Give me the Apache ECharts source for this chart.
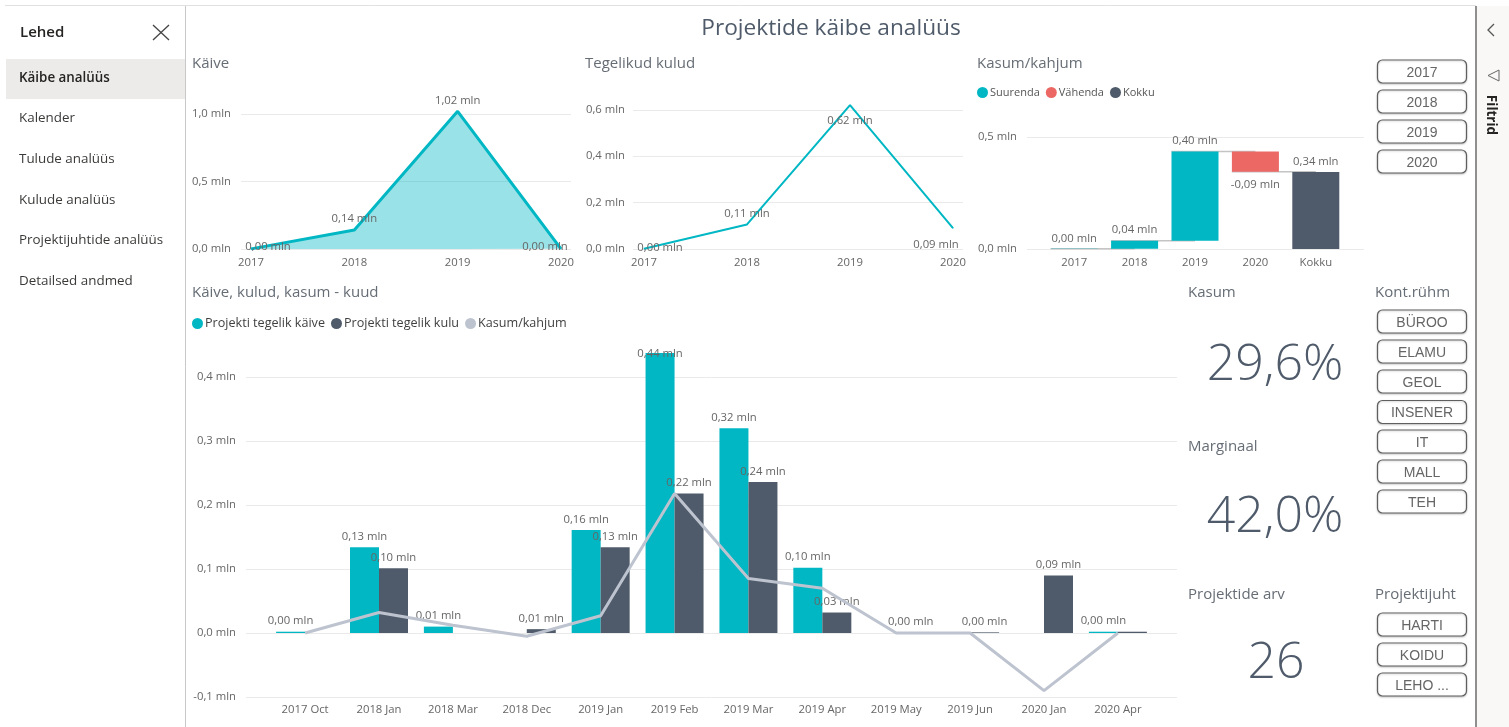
<!DOCTYPE html>
<html>
<head>
<meta charset="utf-8">
<title>Projektide käibe analüüs</title>
<script src="https://cdn.jsdelivr.net/npm/echarts@6/dist/echarts.min.js"></script>
<style>
html, body { margin: 0; padding: 0; background: #fff; }
#main { width: 1509px; height: 727px; }
</style>
</head>
<body>
<div id="main"></div>
<script type="text/javascript">
// andmed
var years = [2017, 2018, 2019, 2020];
var kaive = [0.001, 0.14, 1.02, 0.001];
var kulud = [0.001, 0.106, 0.62, 0.09];

var wfCategories = ['2017', '2018', '2019', '2020', 'Kokku'];
var wfIncrease = [0.001, 0.036, 0.398, null, null];
var wfDecrease = [null, null, null, 0.09, null];
var wfTotal = [null, null, null, null, 0.344];

var months = ['2017 Oct', '2018 Jan', '2018 Mar', '2018 Dec', '2019 Jan', '2019 Feb', '2019 Mar', '2019 Apr', '2019 May', '2019 Jun', '2020 Jan', '2020 Apr'];
var monthRevenue = [0.002, 0.134, 0.01, null, 0.161, 0.4375, 0.32, 0.102, null, null, null, 0.002];
var monthCost = [null, 0.101, null, 0.006, 0.134, 0.218, 0.236, 0.032, 0.001, 0.001, 0.09, 0.002];
var monthProfit = [0, 0.032, 0.012, -0.005, 0.027, 0.218, 0.085, 0.07, 0, 0, -0.09, 0];

var pages = ['Käibe analüüs', 'Kalender', 'Tulude analüüs', 'Kulude analüüs', 'Projektijuhtide analüüs', 'Detailsed andmed'];
var yearButtons = ['2017', '2018', '2019', '2020'];
var groupButtons = ['BÜROO', 'ELAMU', 'GEOL', 'INSENER', 'IT', 'MALL', 'TEH'];
var leadButtons = ['HARTI', 'KOIDU', 'LEHO ...'];

// siltide nihked (px), kus silt ei ole tavalises kohas
var kaiveShift = [[17, 9], [0, 0], [0, 0], [-16, 9]];
var kuludShift = [[16, 10], [0, 0], [0, 27], [-17, 28]];

var TEAL = '#00B7C3', SLATE = '#4F5B6A', SILVER = '#BDC3CF', RED = '#EB6864';
var FONT = '"Open Sans", "Noto Sans", sans-serif';
var TXT = '#666666';
var LABEL_SIZE = 11.3;

function mln1(v) { return v.toFixed(1).replace('.', ',') + ' mln'; }
function mln2(v) { return v.toFixed(2).replace('.', ',') + ' mln'; }

function yAxis(gridIndex, min, max, interval, margin) {
  var onTick = max % interval < 1e-9 || interval - max % interval < 1e-9;
  return {
    type: 'value', gridIndex: gridIndex, min: min, max: max, interval: interval,
    axisLine: {show: false}, axisTick: {show: false},
    axisLabel: {formatter: mln1, color: TXT, fontSize: LABEL_SIZE, fontFamily: FONT, margin: margin, showMaxLabel: onTick, padding: [3, 0, 0, 0]},
    splitLine: {lineStyle: {color: '#EAEAEA', width: 1}, showMaxLine: onTick}
  };
}

function xAxis(gridIndex, min, max, values, names, margin) {
  return {
    type: 'value', gridIndex: gridIndex, min: min, max: max,
    axisLine: {show: false}, axisTick: {show: false, customValues: values}, splitLine: {show: false},
    axisLabel: {
      customValues: values, color: TXT, fontSize: LABEL_SIZE, fontFamily: FONT, margin: margin,
      formatter: function (v) { return names ? names[v] : String(v); }
    }
  };
}

function lineData(values, shifts) {
  return values.map(function (v, i) {
    return {value: [years[i], v], label: {offset: shifts[i]}};
  });
}

function pairs(values) {
  return values.map(function (v, i) { return [i, v === null ? '-' : v]; });
}

function plain(values) {
  return values.map(function (v) { return v === null ? '-' : v; });
}

// vahesumma kahanevate/kasvavate tulpade alla
var wfBase = [], wfLevels = [];
(function () {
  var run = 0;
  for (var i = 0; i < wfCategories.length; i++) {
    if (wfIncrease[i] !== null) { wfBase.push(run); run += wfIncrease[i]; }
    else if (wfDecrease[i] !== null) { run -= wfDecrease[i]; wfBase.push(run); }
    else { wfBase.push(0); }
    wfLevels.push(run);
  }
})();

function labelOf(p) {
  return mln2(Array.isArray(p.value) ? p.value[1] : p.value);
}
var barLabel = {show: true, position: 'top', color: TXT, fontSize: LABEL_SIZE, fontFamily: FONT, formatter: labelOf};

var series = [
  {
    name: 'Käive', type: 'line', xAxisIndex: 0, yAxisIndex: 0, data: lineData(kaive, kaiveShift),
    showSymbol: true, symbol: 'circle', symbolSize: 1, lineStyle: {color: TEAL, width: 3},
    areaStyle: {color: TEAL, opacity: 0.4}, itemStyle: {color: TEAL}, label: barLabel
  },
  {
    name: 'Tegelikud kulud', type: 'line', xAxisIndex: 1, yAxisIndex: 1, data: lineData(kulud, kuludShift),
    showSymbol: true, symbol: 'circle', symbolSize: 1, lineStyle: {color: TEAL, width: 2},
    itemStyle: {color: TEAL}, label: barLabel
  },
  {
    name: 'wfConnector', type: 'custom', xAxisIndex: 2, yAxisIndex: 2, z: 1,
    data: wfLevels.slice(0, 4).map(function (v, i) { return [i, v]; }),
    renderItem: function (params, api) {
      var a = api.coord([api.value(0), api.value(1)]);
      var b = api.coord([api.value(0) + 1, api.value(1)]);
      var bar = api.size([1, 0])[0] * 0.39;
      return {type: 'line', shape: {x1: a[0] - bar, y1: a[1], x2: b[0], y2: b[1]}, style: {stroke: '#C4C4C4', lineWidth: 1.5}};
    }
  },
  {
    name: 'wfBase', type: 'bar', xAxisIndex: 2, yAxisIndex: 2, stack: 'wf', barWidth: 47, z: 2,
    data: wfBase, itemStyle: {color: 'rgba(0,0,0,0)'}, silent: true
  },
  {
    name: 'Suurenda', type: 'bar', xAxisIndex: 2, yAxisIndex: 2, stack: 'wf', barWidth: 47, z: 2,
    data: plain(wfIncrease), itemStyle: {color: TEAL}, label: barLabel
  },
  {
    name: 'Vähenda', type: 'bar', xAxisIndex: 2, yAxisIndex: 2, stack: 'wf', barWidth: 47, z: 2,
    data: plain(wfDecrease), itemStyle: {color: RED},
    label: {show: true, position: 'bottom', distance: 8, color: TXT, fontSize: LABEL_SIZE, fontFamily: FONT, formatter: function (p) { return mln2(-p.value); }}
  },
  {
    name: 'Kokku', type: 'bar', xAxisIndex: 2, yAxisIndex: 2, stack: 'wf', barWidth: 47, z: 2,
    data: plain(wfTotal), itemStyle: {color: SLATE}, label: barLabel
  },
  {
    name: 'Projekti tegelik käive', type: 'bar', xAxisIndex: 3, yAxisIndex: 3, barWidth: 29, barGap: 0,
    data: pairs(monthRevenue).map(function (d, i) {
      return i === 5 ? {value: d, label: {offset: [0, 11]}} : d;
    }),
    itemStyle: {color: TEAL}, label: barLabel
  },
  {
    name: 'Projekti tegelik kulu', type: 'bar', xAxisIndex: 3, yAxisIndex: 3, barWidth: 29, barGap: 0,
    data: pairs(monthCost).map(function (d, i) {
      return i === 11 ? {value: d, label: {show: false}} : d;
    }),
    itemStyle: {color: SLATE}, label: barLabel
  },
  {
    name: 'Kasum/kahjum', type: 'line', xAxisIndex: 3, yAxisIndex: 3, data: pairs(monthProfit),
    showSymbol: false, symbol: 'none', lineStyle: {color: SILVER, width: 3}, itemStyle: {color: SILVER}, z: 3
  }
];

// raam, külgpaneel, nupud, KPI
function text(x, y, str, size, color, extra) {
  var e = {
    type: 'text', x: x, y: y + 1, z: 20,
    style: {text: str, fontSize: size, fontFamily: FONT, fill: color, align: 'left', verticalAlign: 'middle'}
  };
  if (extra) {
    if (extra.rotation) e.rotation = extra.rotation;
    if (extra.align) e.style.align = extra.align;
    if (extra.fontWeight) e.style.fontWeight = extra.fontWeight;
    if (extra.fontFamily) e.style.fontFamily = extra.fontFamily;
  }
  return e;
}

function rect(x, y, w, h, fill) {
  return {type: 'rect', z: 1, shape: {x: x, y: y, width: w, height: h}, style: {fill: fill}};
}

function seg(x1, y1, x2, y2, color, width) {
  return {type: 'line', z: 20, shape: {x1: x1, y1: y1, x2: x2, y2: y2}, style: {stroke: color, lineWidth: width}};
}

function button(cy, label) {
  return [
    {
      type: 'rect', z: 10, shape: {x: 1377.5, y: cy - 12, width: 89, height: 23, r: 5},
      style: {fill: '#fff', stroke: '#5f5f5f', lineWidth: 1.2, shadowBlur: 2, shadowOffsetY: 1, shadowColor: 'rgba(0,0,0,0.2)'}
    },
    text(1422, cy, label, 14, '#666666', {align: 'center', fontFamily: '"Liberation Sans", Arial, sans-serif'})
  ];
}

var graphic = [
  rect(1477, 6, 32, 721, '#F9F8F7'),
  rect(6, 59, 179, 40, '#EDEBE9'),
  seg(5, 5.5, 1476, 5.5, '#E1E1E1', 1),
  seg(185.5, 6, 185.5, 727, '#C8C8C8', 1),
  seg(1476, 6, 1476, 727, '#8F8F8F', 2),
  text(20, 32, 'Lehed', 15, '#252423', {fontWeight: 600}),
  seg(153, 25, 169, 40, '#444444', 1.3),
  seg(169, 25, 153, 40, '#444444', 1.3),
  {type: 'polyline', z: 20, shape: {points: [[1494, 24], [1488, 30], [1494, 36]]}, style: {stroke: '#555555', fill: null, lineWidth: 1.3}},
  {type: 'polygon', z: 20, shape: {points: [[1499, 70], [1488, 75.5], [1499, 81]]}, style: {stroke: '#666666', fill: null, lineWidth: 1}},
  text(1491, 114, 'Filtrid', 13.5, '#252423', {rotation: -Math.PI / 2, align: 'center', fontWeight: 700}),
  text(831, 28, 'Projektide käibe analüüs', 22.7, '#4F5B6A', {align: 'center'}),
  text(192, 63, 'Käive', 15, '#666D75'),
  text(585, 63, 'Tegelikud kulud', 15, '#666D75'),
  text(977, 63, 'Kasum/kahjum', 15, '#666D75'),
  text(192, 292, 'Käive, kulud, kasum - kuud', 15, '#666D75'),
  text(1188, 292, 'Kasum', 15, '#666D75'),
  text(1188, 446, 'Marginaal', 15, '#666D75'),
  text(1188, 594, 'Projektide arv', 15, '#666D75'),
  text(1375, 292, 'Kont.rühm', 15, '#666D75'),
  text(1375, 594, 'Projektijuht', 15, '#666D75'),
  text(1275, 365, '29,6%', 50, '#4F5B6A', {align: 'center', fontWeight: 300}),
  text(1275, 517, '42,0%', 50, '#4F5B6A', {align: 'center', fontWeight: 300}),
  text(1276, 663, '26', 50, '#4F5B6A', {align: 'center', fontWeight: 300})
];

pages.forEach(function (p, i) {
  graphic.push(text(19, 77 + i * 40.6, p, 13.4, i === 0 ? '#252423' : '#3B3A39', i === 0 ? {fontWeight: 600} : null));
});
[72, 102, 132, 162].forEach(function (cy, i) { graphic = graphic.concat(button(cy, yearButtons[i])); });
[322, 352, 382, 412.5, 442, 472, 502].forEach(function (cy, i) { graphic = graphic.concat(button(cy, groupButtons[i])); });
[625, 655, 685].forEach(function (cy, i) { graphic = graphic.concat(button(cy, leadButtons[i])); });

// kose: tulbad kitsamas ruudustikus, jooned ja y-telg laiemas
var wfXAxis = {
  type: 'category', gridIndex: 2, data: wfCategories,
  axisLine: {show: false}, axisTick: {show: false}, splitLine: {show: false},
  axisLabel: {color: TXT, fontSize: LABEL_SIZE, fontFamily: FONT, margin: 8}
};
var wfBarsYAxis = {type: 'value', gridIndex: 2, min: 0, max: 0.5, show: false};
var wfBackXAxis = {type: 'value', gridIndex: 4, min: 0, max: 1, show: false};

var option = {
  animation: false,
  backgroundColor: '#fff',
  textStyle: {fontFamily: FONT},
  graphic: graphic,
  grid: [
    {left: 241, top: 100.5, width: 330, height: 148.5},
    {left: 633, top: 98.2, width: 330, height: 150.8},
    {left: 1044, top: 137, width: 302, height: 112, z: 3},
    {left: 246, top: 345, width: 931, height: 352},
    {left: 1027, top: 137, width: 337, height: 112}
  ],
  xAxis: [
    xAxis(0, 2016.903, 2020.097, years, null, 8),
    xAxis(1, 2016.893, 2020.097, years, null, 8),
    wfXAxis,
    xAxis(3, -0.8, 11.8, months.map(function (m, i) { return i; }), months, 7),
    wfBackXAxis
  ],
  yAxis: [
    yAxis(0, 0, 1.1, 0.5, 10),
    yAxis(1, 0, 0.65, 0.2, 8),
    wfBarsYAxis,
    yAxis(3, -0.1, 0.45, 0.1, 10),
    yAxis(4, 0, 0.5, 0.5, 10)
  ],
  legend: [
    {
      left: 977, top: 87, padding: 0, icon: 'circle', itemWidth: 11, itemHeight: 11, itemGap: 6,
      data: ['Suurenda', 'Vähenda', 'Kokku'], selectedMode: false,
      textStyle: {color: '#555555', fontSize: 11, fontFamily: FONT, padding: [0, 0, 0, -3]}
    },
    {
      left: 192, top: 317, padding: 0, icon: 'circle', itemWidth: 11, itemHeight: 11, itemGap: 6,
      data: ['Projekti tegelik käive', 'Projekti tegelik kulu', 'Kasum/kahjum'], selectedMode: false,
      textStyle: {color: '#3F3F3F', fontSize: 12.6, fontFamily: FONT, padding: [0, 0, 0, -3]}
    }
  ],
  series: series
};

var myChart = echarts.init(document.getElementById('main'));
myChart.setOption(option);
</script>
</body>
</html>
